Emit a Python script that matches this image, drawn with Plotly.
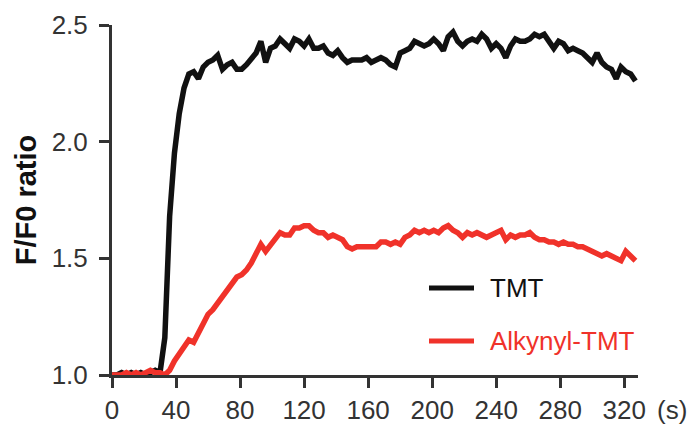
import plotly.graph_objects as go

time_s = [0, 3, 6, 9, 12, 15, 18, 21, 24, 27, 30, 33, 36, 39, 42, 45, 48, 51, 54, 57,
          60, 63, 66, 69, 72, 75, 78, 81, 84, 87, 90, 93, 96, 99, 102, 105, 108, 111, 114, 117,
          120, 123, 126, 129, 132, 135, 138, 141, 144, 147, 150, 153, 156, 159, 162, 165, 168, 171, 174, 177,
          180, 183, 186, 189, 192, 195, 198, 201, 204, 207, 210, 213, 216, 219, 222, 225, 228, 231, 234, 237,
          240, 243, 246, 249, 252, 255, 258, 261, 264, 267, 270, 273, 276, 279, 282, 285, 288, 291, 294, 297,
          300, 303, 306, 309, 312, 315, 318, 321, 324, 327]

tmt = [1.00, 1.00, 1.01, 1.00, 1.01, 1.00, 1.01, 1.00, 1.01, 1.02, 1.01, 1.16, 1.68, 1.95, 2.12, 2.23, 2.29, 2.30, 2.27, 2.32,
       2.34, 2.35, 2.37, 2.31, 2.33, 2.34, 2.31, 2.31, 2.33, 2.36, 2.38, 2.43, 2.34, 2.40, 2.41, 2.44, 2.42, 2.40, 2.44, 2.43,
       2.41, 2.44, 2.40, 2.40, 2.41, 2.38, 2.37, 2.39, 2.36, 2.34, 2.35, 2.35, 2.35, 2.36, 2.34, 2.35, 2.36, 2.35, 2.33, 2.32,
       2.38, 2.39, 2.40, 2.43, 2.42, 2.41, 2.42, 2.44, 2.42, 2.39, 2.45, 2.47, 2.43, 2.41, 2.43, 2.44, 2.43, 2.46, 2.44, 2.40,
       2.42, 2.40, 2.36, 2.41, 2.44, 2.43, 2.43, 2.44, 2.46, 2.45, 2.46, 2.43, 2.40, 2.43, 2.42, 2.39, 2.40, 2.39, 2.38, 2.36,
       2.34, 2.38, 2.34, 2.32, 2.31, 2.27, 2.32, 2.30, 2.29, 2.26]

alkynyl_tmt = [1.00, 1.00, 1.00, 1.01, 1.00, 1.01, 1.00, 1.01, 1.02, 1.01, 1.01, 1.00, 1.02, 1.06, 1.09, 1.11, 1.15, 1.14, 1.18, 1.23,
               1.26, 1.28, 1.31, 1.34, 1.36, 1.40, 1.42, 1.43, 1.45, 1.48, 1.52, 1.56, 1.53, 1.56, 1.58, 1.61, 1.60, 1.60, 1.63, 1.63,
               1.64, 1.64, 1.62, 1.61, 1.61, 1.59, 1.60, 1.59, 1.58, 1.55, 1.54, 1.55, 1.55, 1.55, 1.55, 1.55, 1.57, 1.57, 1.56, 1.57,
               1.56, 1.59, 1.60, 1.62, 1.61, 1.62, 1.61, 1.62, 1.61, 1.63, 1.64, 1.62, 1.61, 1.59, 1.61, 1.60, 1.61, 1.60, 1.59, 1.60,
               1.61, 1.62, 1.58, 1.60, 1.59, 1.60, 1.60, 1.61, 1.59, 1.58, 1.58, 1.57, 1.57, 1.56, 1.57, 1.56, 1.56, 1.55, 1.55, 1.54,
               1.53, 1.52, 1.51, 1.52, 1.51, 1.50, 1.49, 1.53, 1.51, 1.49]

x_ticks = [0, 40, 80, 120, 160, 200, 240, 280, 320]
y_ticks = [1.0, 1.5, 2.0, 2.5]
y_tick_text = ["1.0", "1.5", "2.0", "2.5"]

BLACK = "#111111"
RED = "#f0322a"
AXIS = "#333333"
FONT = "Liberation Sans, Arial, sans-serif"

# plot-area geometry in pixels (used only to place legend/annotation in paper units)
L, R, T, B = 112, 53, 25, 49
PW, PH = 691 - L - R, 424 - T - B

def px_x(p):
    return (p - L) / PW

def px_y(p):
    return (424 - B - p) / PH

fig = go.Figure()
fig.add_trace(go.Scatter(x=time_s, y=tmt, mode="lines", name="TMT",
                         line=dict(color=BLACK, width=5.5)))
fig.add_trace(go.Scatter(x=time_s, y=alkynyl_tmt, mode="lines", name="Alkynyl-TMT",
                         line=dict(color=RED, width=5.5)))

# legend drawn manually (longer swatches, coloured text)
legend_items = [("TMT", BLACK, 288), ("Alkynyl-TMT", RED, 341)]
for label, color, ypx in legend_items:
    fig.add_shape(type="line", xref="paper", yref="paper",
                  x0=px_x(429), x1=px_x(474), y0=px_y(ypx), y1=px_y(ypx),
                  line=dict(color=color, width=5))
    fig.add_annotation(text=label, xref="paper", yref="paper",
                       x=px_x(488), y=px_y(ypx), xanchor="left", yanchor="middle",
                       showarrow=False, font=dict(family=FONT, size=26, color=color))

fig.add_annotation(text="(s)", xref="paper", yref="paper",
                   x=px_x(655), y=px_y(410), xanchor="left", yanchor="middle",
                   showarrow=False, font=dict(family=FONT, size=26, color=AXIS))

fig.update_layout(
    width=691, height=424,
    margin=dict(l=L, r=R, t=T, b=B),
    paper_bgcolor="white", plot_bgcolor="white",
    showlegend=False,
    font=dict(family=FONT, color=AXIS),
)
fig.update_xaxes(range=[0, 328.6], tickvals=x_ticks, ticktext=[str(v) for v in x_ticks],
                 automargin=False,
                 showgrid=False, zeroline=False, showline=True, linecolor=AXIS, linewidth=3,
                 ticks="outside", ticklen=10, tickwidth=3, tickcolor=AXIS,
                 tickfont=dict(family=FONT, size=26, color=AXIS))
fig.update_yaxes(range=[1.0, 2.5], tickvals=y_ticks, ticktext=y_tick_text,
                 automargin=False, ticklabelstandoff=6,
                 showgrid=False, zeroline=False, showline=True, linecolor=AXIS, linewidth=3,
                 ticks="outside", ticklen=10, tickwidth=3, tickcolor=AXIS,
                 tickfont=dict(family=FONT, size=26, color=AXIS),
                 title=dict(text="<b>F/F0 ratio</b>", standoff=7,
                            font=dict(family=FONT, size=29, color="#111111")))

fig.write_html("out.html", config={"displayModeBar": False},
               post_script="document.body.style.margin='0';document.body.style.padding='0';")
